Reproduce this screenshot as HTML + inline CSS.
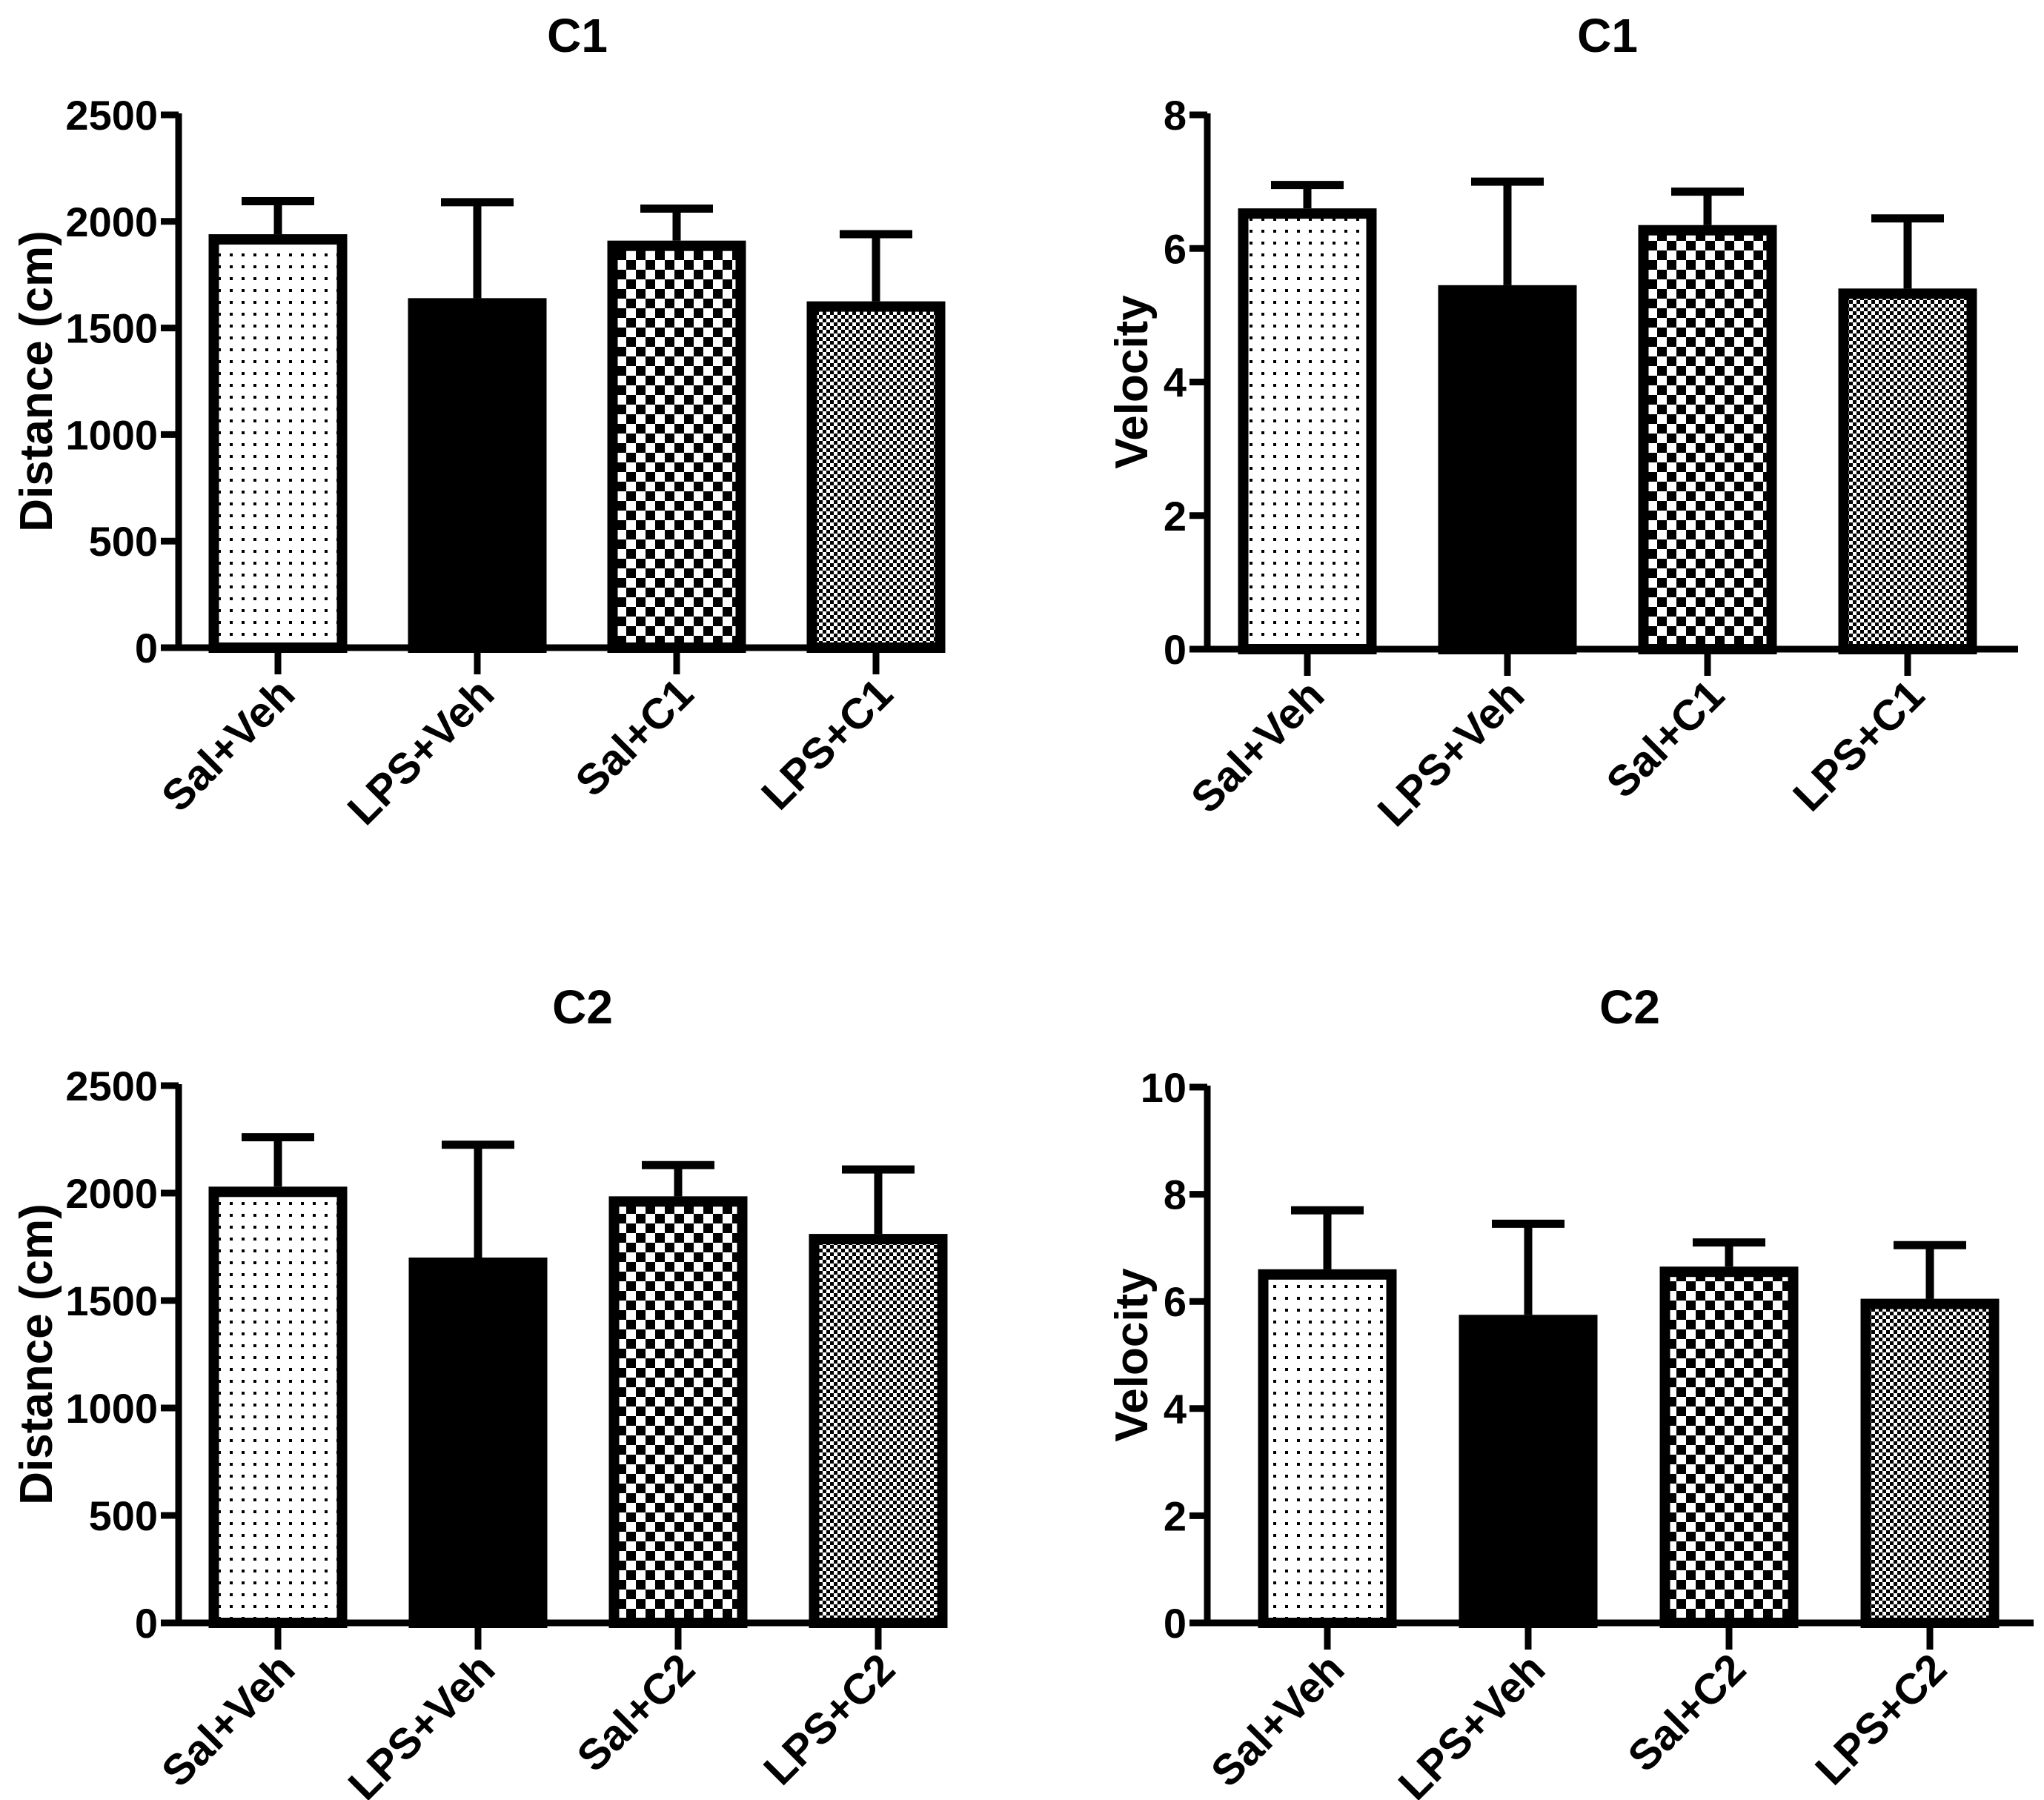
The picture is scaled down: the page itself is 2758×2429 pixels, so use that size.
<!DOCTYPE html>
<html><head><meta charset="utf-8"><style>
html,body{margin:0;padding:0;background:#fff}
svg{display:block}
text{font-family:"Liberation Sans",Arial,sans-serif;font-weight:bold;fill:#000}
</style></head><body>
<svg id="fig" width="2758" height="2429" viewBox="0 0 2758 2429" xmlns="http://www.w3.org/2000/svg">
<defs>
<pattern id="p-dots" width="16" height="16" patternUnits="userSpaceOnUse"><rect width="16" height="16" fill="#fff"/><rect x="6" y="6" width="4" height="4" fill="#000"/></pattern>
<pattern id="p-check" width="26" height="26" patternUnits="userSpaceOnUse"><rect width="26" height="26" fill="#fff"/><rect width="13" height="13" fill="#000"/><rect x="13" y="13" width="13" height="13" fill="#000"/></pattern>
<pattern id="p-fine" width="10" height="10" patternUnits="userSpaceOnUse"><rect width="10" height="10" fill="#fff"/><rect width="5" height="5" fill="#000"/><rect x="5" y="5" width="5" height="5" fill="#000"/></pattern>
</defs>
</svg>
<script>
const catsC1 = ["Sal+Veh","LPS+Veh","Sal+C1","LPS+C1"];
const catsC2 = ["Sal+Veh","LPS+Veh","Sal+C2","LPS+C2"];
const distC1 = [1940,1640,1910,1625];
const distC1Err = [2095,2090,2060,1940];
const velC1 = [6.6,5.45,6.35,5.4];
const velC1Err = [6.95,7.0,6.85,6.45];
const distC2 = [2030,1700,1985,1810];
const distC2Err = [2260,2225,2130,2110];
const velC2 = [6.6,5.75,6.65,6.05];
const velC2Err = [7.7,7.45,7.1,7.05];
const distTicks = [0,500,1000,1500,2000,2500];
const velTicksC1 = [0,2,4,6,8];
const velTicksC2 = [0,2,4,6,8,10];

const NS="http://www.w3.org/2000/svg";
const svg=document.getElementById('fig');
function mk(tag,attrs,parent){const e=document.createElementNS(NS,tag);for(const k in attrs)e.setAttribute(k,attrs[k]);(parent||svg).appendChild(e);return e;}
const fills=["url(#p-dots)","#000","url(#p-check)","url(#p-fine)"];

function panel(cfg){
  const g=mk('g',{});
  
  
  const ymax=cfg.ticks[cfg.ticks.length-1];
  const yS=v=>cfg.zero-(v/ymax)*(cfg.zero-cfg.top);
  const xS=i=>cfg.first+i*cfg.step;
  const bw=187, sw=14;
  cfg.vals.forEach((v,i)=>{
    const x=xS(i), yt=yS(v), ye=yS(cfg.err[i]);
    const el=mk('line',{x1:x,x2:x,y1:yt,y2:ye,stroke:'#000','stroke-width':11},g);
    
    
    const cap=mk('line',{x1:x-49,x2:x+49,y1:ye,y2:ye,stroke:'#000','stroke-width':11},g);
    
    
    const r=mk('rect',{x:x-bw/2+sw/2,y:yt+sw/2,width:bw-sw,height:cfg.zero-yt-sw/2,fill:fills[i],stroke:'#000','stroke-width':sw},g);
    
    
    const tk=mk('line',{x1:x,x2:x,y1:cfg.zero,y2:cfg.zero+36,stroke:'#000','stroke-width':9},g);
    
    
    const t=mk('text',{x:0,y:0,'font-size':58,'text-anchor':'end',transform:`translate(${x+26},${cfg.zero+66}) rotate(-45)`},g);
    t.textContent=cfg.cats[i];
    
    
  });
  const ya=mk('line',{x1:cfg.ax,x2:cfg.ax,y1:cfg.top-2,y2:cfg.zero+4,stroke:'#000','stroke-width':9},g);
  
  
  const xa=mk('line',{x1:cfg.ax-24,x2:cfg.xend,y1:cfg.zero,y2:cfg.zero,stroke:'#000','stroke-width':9},g);
  
  
  cfg.ticks.forEach(v=>{
    const y=yS(v);
    const tl=mk('line',{x1:cfg.ax-24,x2:cfg.ax,y1:y,y2:y,stroke:'#000','stroke-width':9},g);
    
    
    const t=mk('text',{x:cfg.ax-28,y:y+20,'font-size':56,'text-anchor':'end'},g);
    t.textContent=v;
    
    
  });
  const yt=mk('text',{x:0,y:0,'font-size':62,'text-anchor':'middle',transform:`translate(${cfg.ylx},${(cfg.top+cfg.zero)/2}) rotate(-90)`},g);
  yt.textContent=cfg.ylabel;
  
  
  const tt=mk('text',{x:cfg.tx,y:cfg.ty,'font-size':64,'text-anchor':'middle'},g);
  tt.textContent=cfg.title;
  
  
}
panel({name:'panel-c1-distance',ax:241,top:155,zero:874,xend:1237,first:375,step:269,ticks:distTicks,vals:distC1,err:distC1Err,cats:catsC1,ylabel:'Distance (cm)',ylx:70,title:'C1',tx:779,ty:70});
panel({name:'panel-c1-velocity',ax:1629,top:155,zero:876,xend:2723,first:1764,step:270,ticks:velTicksC1,vals:velC1,err:velC1Err,cats:catsC1,ylabel:'Velocity',ylx:1548,title:'C1',tx:2169,ty:70});
panel({name:'panel-c2-distance',ax:241,top:1465,zero:2190,xend:1240,first:375,step:270,ticks:distTicks,vals:distC2,err:distC2Err,cats:catsC2,ylabel:'Distance (cm)',ylx:70,title:'C2',tx:786,ty:1381});
panel({name:'panel-c2-velocity',ax:1629,top:1467,zero:2190,xend:2744,first:1791,step:271,ticks:velTicksC2,vals:velC2,err:velC2Err,cats:catsC2,ylabel:'Velocity',ylx:1548,title:'C2',tx:2199,ty:1381});
</script>
</body></html>
